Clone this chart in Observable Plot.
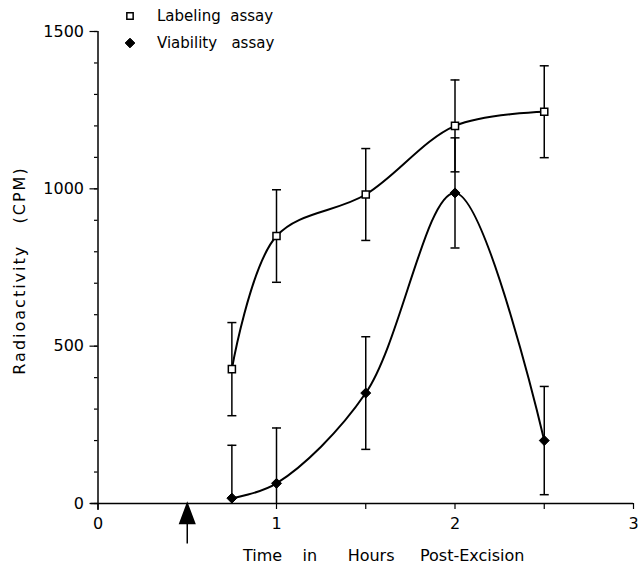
<!DOCTYPE html>
<html><head><meta charset="utf-8">
<script src="https://cdn.jsdelivr.net/npm/d3@7"></script>
<script src="https://cdn.jsdelivr.net/npm/@observablehq/plot@0.6"></script>
<style>
body{margin:0;background:#fff}
svg text{white-space:pre}
</style>
</head><body><div id="chart"></div>
<script>
// ---- data ----
const times = [0.75, 1, 1.5, 2, 2.5];
const labelingCPM = [427, 850, 982, 1200, 1245];
const labelingErr = [148, 147, 146, 146, 146];
const viabilityCPM = [17, 64, 351, 987, 200];
const viabilityErr = [168, 176, 179, 175, 172];
const xTicks = [0, 1, 2, 3];
const xMinorTicks = [0, 0.5, 1, 1.5, 2, 2.5, 3];
const yTicks = [0, 500, 1000, 1500];
const yMinorTicks = [0,100,200,300,400,500,600,700,800,900,1000,1100,1200,1300,1400,1500];
const excisionTime = [0.5];
const seriesNames = ["Labeling  assay", "Viability   assay"];
const xLabel = "Time    in      Hours     Post-Excision";
const yLabel = "Radioactivity   (CPM)";

const labeling = times.map((t, i) => ({t, v: labelingCPM[i], e: labelingErr[i]}));
const viability = times.map((t, i) => ({t, v: viabilityCPM[i], e: viabilityErr[i]}));

const FONT = "DejaVu Sans";
const capSymbol = {draw(ctx) { ctx.moveTo(-4.5, 0); ctx.lineTo(4.5, 0); }};
const arrowSymbol = {draw(ctx) {
  ctx.moveTo(0, 0); ctx.lineTo(7.5, 20); ctx.lineTo(-7.5, 20); ctx.closePath();
  ctx.moveTo(0, 20); ctx.lineTo(0, 40);
}};

function errMarks(data) {
  const lo = d => Math.max(0, d.v - d.e), hi = d => d.v + d.e;
  return [
    Plot.ruleX(data, {x: "t", y1: lo, y2: hi, stroke: "black", strokeWidth: 1.5}),
    Plot.dot(data.filter(d => d.v - d.e > 0), {x: "t", y: lo, symbol: capSymbol, stroke: "black", strokeWidth: 1.5, fill: "none", r: 3}),
    Plot.dot(data, {x: "t", y: hi, symbol: capSymbol, stroke: "black", strokeWidth: 1.5, fill: "none", r: 3})
  ];
}

const chart = Plot.plot({
  width: 638,
  height: 565,
  marginLeft: 97.5,
  marginRight: 5,
  marginTop: 31,
  marginBottom: 62,
  style: {fontFamily: FONT, fontSize: "16px", color: "black", background: "white"},
  x: {domain: [0, 3], axis: null},
  y: {domain: [0, 1500], axis: null},
  marks: [
    ...errMarks(labeling),
    ...errMarks(viability),
    Plot.line(labeling, {x: "t", y: "v", curve: "catmull-rom", stroke: "black", strokeWidth: 2}),
    Plot.line(viability, {x: "t", y: "v", curve: "catmull-rom", stroke: "black", strokeWidth: 2}),
    Plot.dot(labeling, {x: "t", y: "v", symbol: "square", r: 4, fill: "white", stroke: "black", strokeWidth: 1.5}),
    Plot.dot(viability, {x: "t", y: "v", symbol: "diamond2", r: 4.5, fill: "black", stroke: "black", strokeWidth: 1}),
    Plot.ruleY([0], {stroke: "black", strokeWidth: 1.5, insetLeft: -7}),
    Plot.ruleX([0], {stroke: "black", strokeWidth: 1.5, insetBottom: -7}),
    Plot.axisY(yMinorTicks, {tickSize: 3.5, tickFormat: () => "", label: null, strokeWidth: 1.2}),
    Plot.axisY(yTicks, {tickSize: 8, tickPadding: 6, label: null, fontSize: 16, tickFormat: d3.format("d"), strokeWidth: 1.2}),
    Plot.axisX(xMinorTicks, {tickSize: 6, tickFormat: () => "", label: null, strokeWidth: 1.2}),
    Plot.axisX(xTicks, {tickSize: 0, tickPadding: 14, label: null, fontSize: 16, tickFormat: d3.format("d")}),
    Plot.dot(excisionTime, {x: d => d, y: () => 0, symbol: arrowSymbol, fill: "black", stroke: "black", strokeWidth: 1.5, r: 3}),
    Plot.text([xLabel], {frameAnchor: "bottom", text: d => d, textAnchor: "middle", dx: 18, dy: 57, fontSize: 16}),
    Plot.text([yLabel], {frameAnchor: "left", text: d => d, textAnchor: "middle", rotate: -90, dx: -78, dy: 3, fontSize: 16, style: "letter-spacing:2px"})
  ]
});

// legend
const svg = d3.select(chart);
const leg = svg.append("g").attr("font-family", FONT).attr("font-size", 15).attr("text-anchor", "start");
const legSyms = [
  {sym: d3.symbolSquare, size: 40, fill: "white", stroke: "black", sw: 1.5},
  {sym: d3.symbolDiamond2, size: 60, fill: "black", stroke: "black", sw: 1}
];
seriesNames.forEach((name, i) => {
  const cy = 16 + i * 27;
  leg.append("path").attr("transform", `translate(130,${cy})`)
    .attr("d", d3.symbol(legSyms[i].sym, legSyms[i].size)())
    .attr("fill", legSyms[i].fill).attr("stroke", legSyms[i].stroke).attr("stroke-width", legSyms[i].sw);
  leg.append("text").attr("x", 157).attr("y", cy).attr("dy", "0.35em").attr("text-anchor", "start").text(name);
});

// letter spacing for y label
svg.selectAll("text").filter(function() { return this.textContent === yLabel; }).style("letter-spacing", "2px");

document.getElementById("chart").appendChild(chart);
</script>
</body></html>
